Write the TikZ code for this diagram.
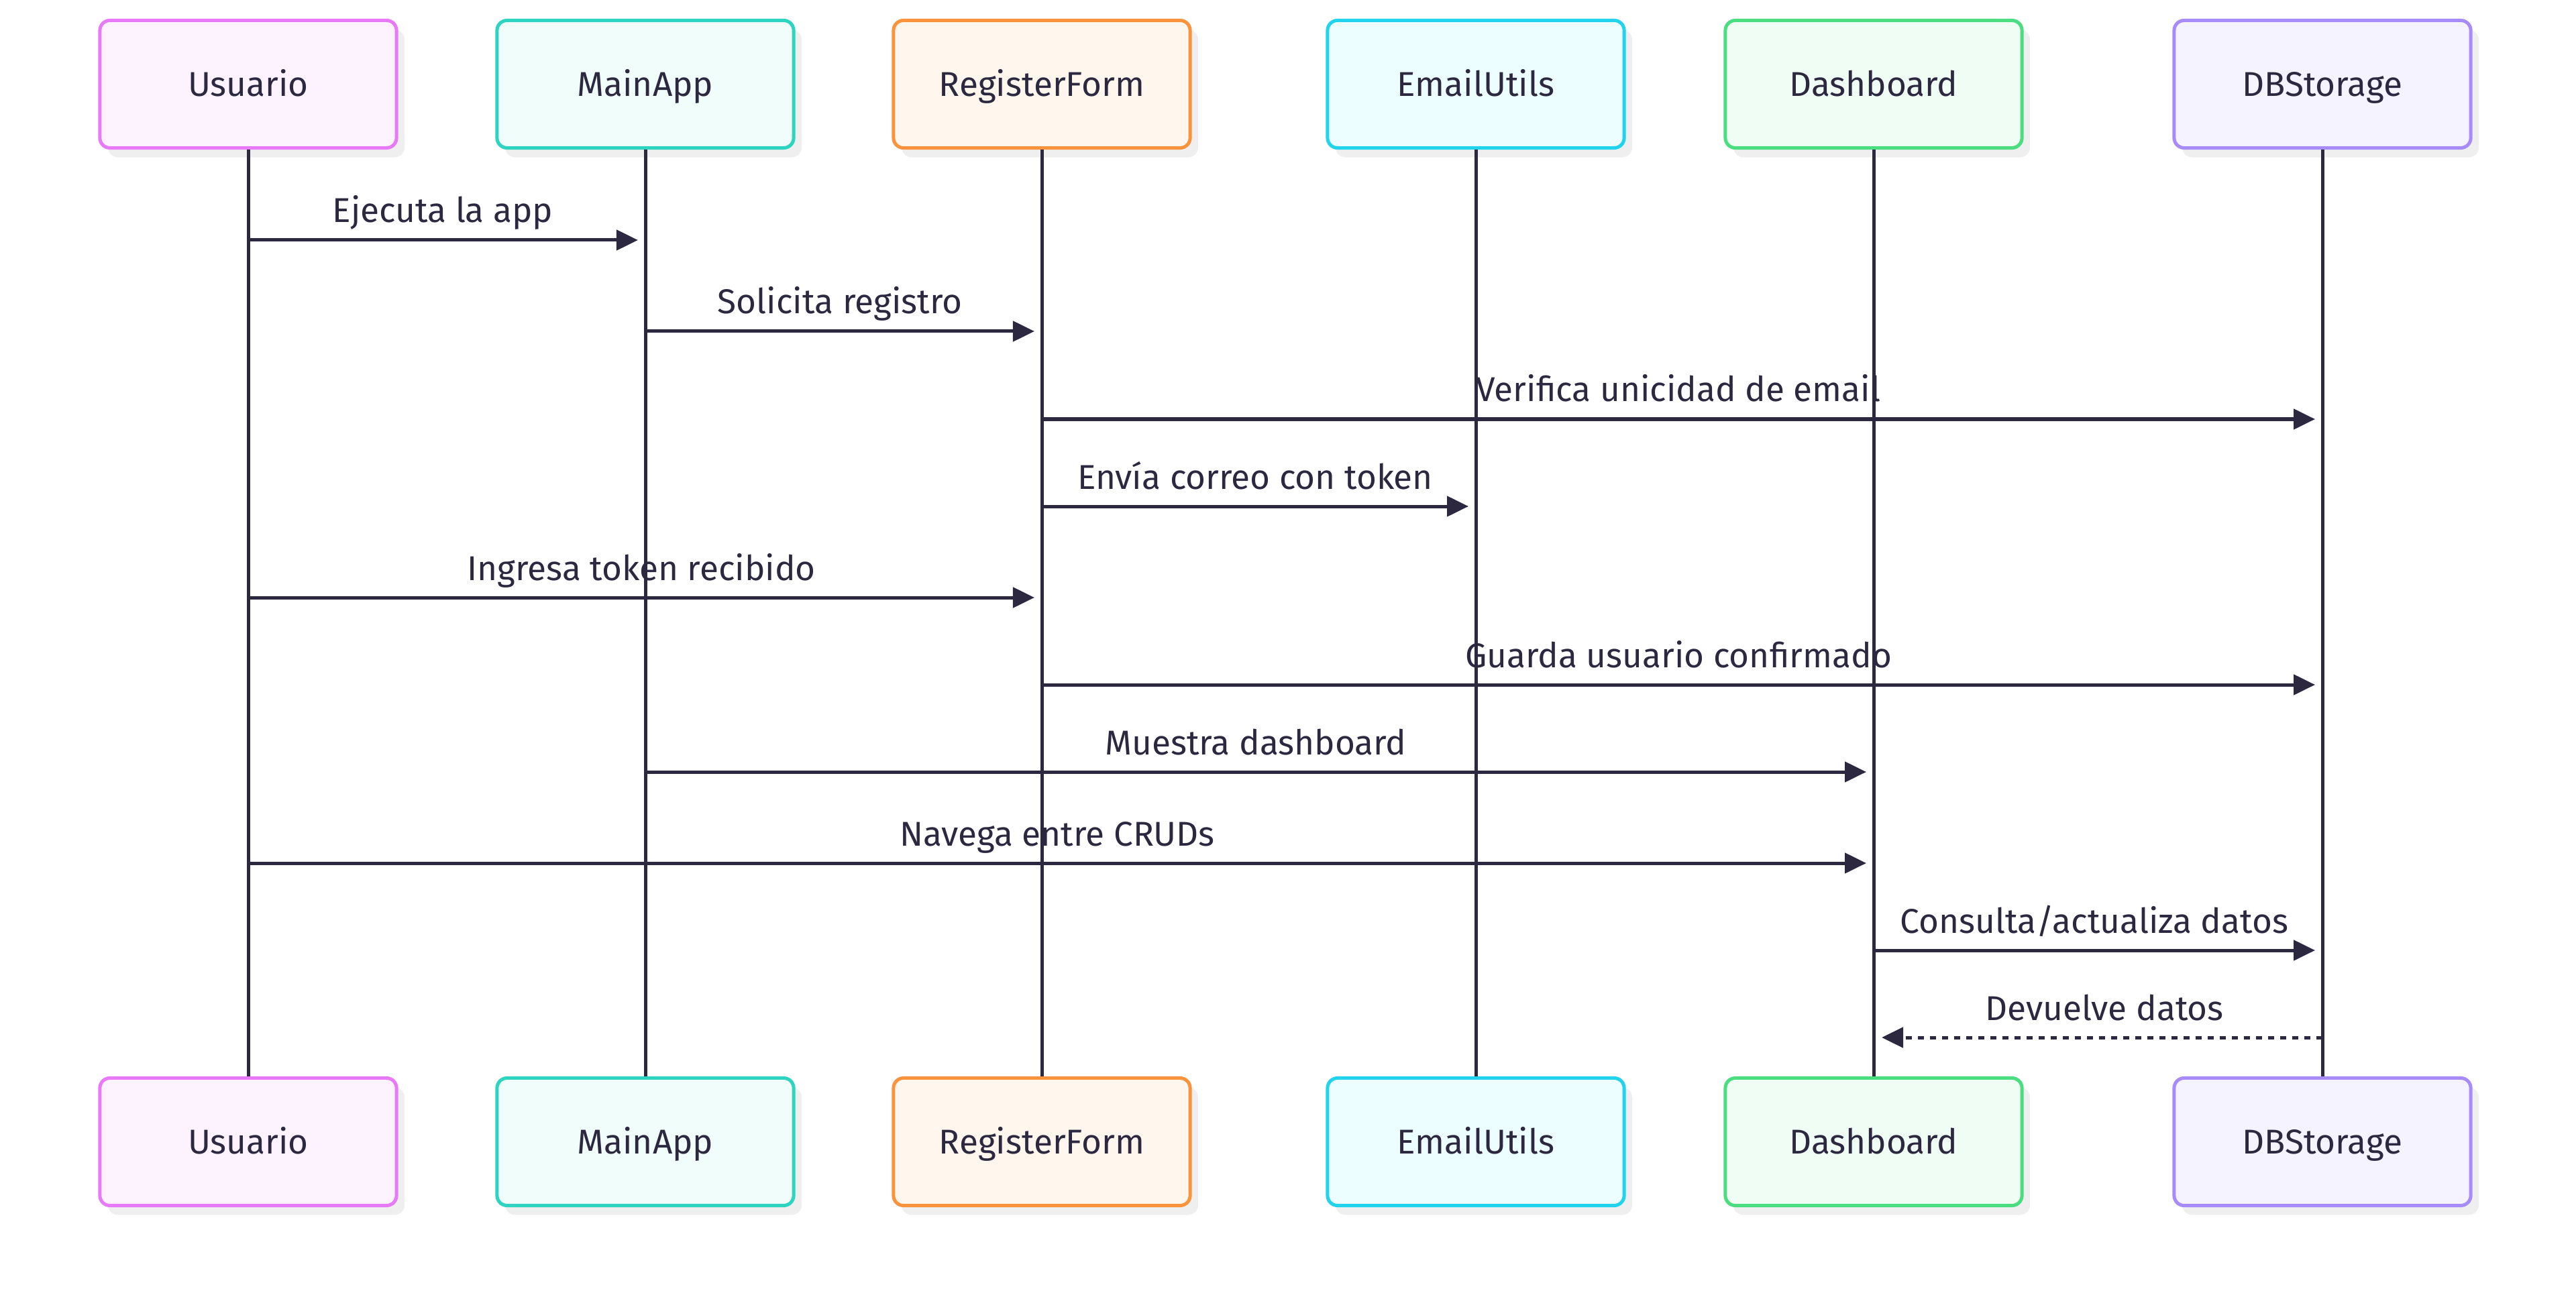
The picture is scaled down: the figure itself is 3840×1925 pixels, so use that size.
\documentclass[tikz,border=0pt]{standalone}
\usepackage{fontspec}
\setmainfont{Fira Sans}
\usetikzlibrary{arrows.meta,shadows}
\definecolor{ink}{HTML}{2B2840}
\definecolor{shgray}{HTML}{EFEFEF}
\definecolor{cUb}{HTML}{E879F9}\definecolor{cUf}{HTML}{FDF3FE}
\definecolor{cMb}{HTML}{2DD4BF}\definecolor{cMf}{HTML}{F0FDFA}
\definecolor{cRb}{HTML}{FB923C}\definecolor{cRf}{HTML}{FFF7ED}
\definecolor{cEb}{HTML}{22D3EE}\definecolor{cEf}{HTML}{ECFEFF}
\definecolor{cDb}{HTML}{4ADE80}\definecolor{cDf}{HTML}{F0FDF4}
\definecolor{cSb}{HTML}{A78BFA}\definecolor{cSf}{HTML}{F5F3FF}
\tikzset{
  actor/.style={rectangle, rounded corners=0.15cm, minimum width=4.42cm, minimum height=1.90cm,
    line width=0.05cm, text=ink, font=\fontsize{14.6pt}{17pt}\selectfont,
    text height=0.35cm, text depth=0pt,
    general shadow={fill=shgray, shadow xshift=0.12cm, shadow yshift=-0.14cm}},
  lifeline/.style={draw=ink, line width=0.05cm},
  msg/.style={draw=ink, line width=0.05cm, -{Triangle[length=0.32cm,width=0.30cm]}, shorten >=0.11cm},
  reply/.style={draw=ink, line width=0.05cm, dash pattern=on 0.09cm off 0.09cm, -{Triangle[length=0.32cm,width=0.30cm]}, shorten >=0.12cm},
  lbl/.style={anchor=base, text=ink, inner sep=0pt, font=\fontsize{14.6pt}{17pt}\selectfont}
}
\begin{document}
\begin{tikzpicture}[x=0.01cm,y=-0.01cm]
\useasboundingbox (0,0) rectangle (3840,1925);
% participants
\foreach \n/\x/\b/\f/\t in {u/370/cUb/cUf/Usuario, m/962/cMb/cMf/MainApp, r/1553/cRb/cRf/RegisterForm, e/2200/cEb/cEf/EmailUtils, d/2793/cDb/cDf/Dashboard, s/3462/cSb/cSf/DBStorage}{
  \node[actor, draw=\b, fill=\f] (\n T) at (\x,125.5) {\t};
  \node[actor, draw=\b, fill=\f] (\n B) at (\x,1702.5) {\t};
  \draw[lifeline] (\n T.south) -- (\n B.north);
}
% message rows
\coordinate (r1) at (0,358);
\coordinate (r2) at (0,494);
\coordinate (r3) at (0,625);
\coordinate (r4) at (0,755);
\coordinate (r5) at (0,891);
\coordinate (r6) at (0,1021);
\coordinate (r7) at (0,1151);
\coordinate (r8) at (0,1287);
\coordinate (r9) at (0,1417);
\coordinate (r10) at (0,1547);
\draw[msg] (uT |- r1) -- (mT |- r1);
\draw[msg] (mT |- r2) -- (rT |- r2);
\draw[msg] (rT |- r3) -- (sT |- r3);
\draw[msg] (rT |- r4) -- (eT |- r4);
\draw[msg] (uT |- r5) -- (rT |- r5);
\draw[msg] (rT |- r6) -- (sT |- r6);
\draw[msg] (mT |- r7) -- (dT |- r7);
\draw[msg] (uT |- r8) -- (dT |- r8);
\draw[msg] (dT |- r9) -- (sT |- r9);
\draw[reply] (sT |- r10) -- (dT |- r10);
% labels
\node[lbl] (l1) at (660,332) {Ejecuta la app};
\node[lbl] (l2) at (1252,468) {Solicita registro};
\node[lbl] (l3) at (2502,599) {Verifica unicidad de email};
\node[lbl] (l4) at (1871,729) {Envía correo con token};
\node[lbl] (l5) at (956,865) {Ingresa token recibido};
\node[lbl] (l6) at (2502,995) {Guarda usuario confirmado};
\node[lbl] (l7) at (1872,1125) {Muestra dashboard};
\node[lbl] (l8) at (1576,1261) {Navega entre CRUDs};
\node[lbl] (l9) at (3122,1391) {Consulta/actualiza datos};
\node[lbl] (l10) at (3137,1521) {Devuelve datos};
\end{tikzpicture}
\end{document}
